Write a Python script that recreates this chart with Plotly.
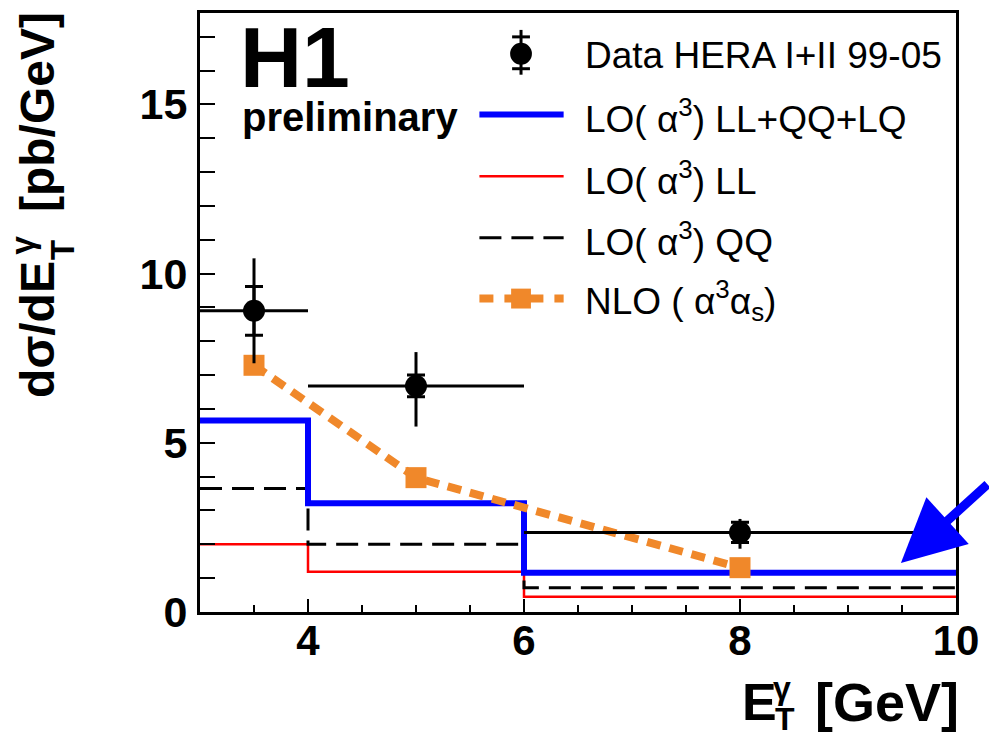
import plotly.graph_objects as go

# ---------------- data ----------------
data_x = [3.5, 5.0, 8.0]
data_xlo = [3.0, 4.0, 6.0]
data_xhi = [4.0, 6.0, 10.0]
data_y = [8.9, 6.68, 2.35]
data_tot_up = [1.55, 1.0, 0.40]
data_tot_dn = [1.55, 1.2, 0.48]
data_stat = [0.72, 0.32, 0.30]

bin_edges = [3.0, 4.0, 6.0, 10.0]
lo_all = [5.66, 3.21, 1.16]   # LO(a^3) LL+QQ+LQ
lo_ll = [2.00, 1.19, 0.45]    # LO(a^3) LL
lo_qq = [3.65, 2.00, 0.72]    # LO(a^3) QQ

nlo_x = [3.5, 5.0, 8.0]
nlo_y = [7.29, 3.97, 1.31]

legend_labels = [
    "Data HERA I+II 99-05",
    "LO( α<sup>3</sup>) LL+QQ+LQ",
    "LO( α<sup>3</sup>) LL",
    "LO( α<sup>3</sup>) QQ",
    "NLO ( α<sup>3</sup>α<sub>s</sub>)",
]

x_ticks = [4, 6, 8, 10]
y_ticks = [0, 5, 10, 15]

# ---------------- layout geometry ----------------
W, H = 989, 741
ML, MR, MT, MB = 200, 26, 10, 129
PW, PH = W - ML - MR, H - MT - MB

def px(x):
    return (x - ML) / PW

def py(y):
    return (H - MB - y) / PH

BLUE = "#0000ff"
RED = "#ff0000"
ORANGE = "#f0882a"
FONT = "Liberation Sans"

def step(vals):
    return vals + [vals[-1]]

fig = go.Figure()

fig.add_trace(go.Scatter(x=bin_edges, y=step(lo_ll), mode="lines", line_shape="hv",
                         line=dict(color=RED, width=2.5), showlegend=False))
fig.add_trace(go.Scatter(x=bin_edges, y=step(lo_qq), mode="lines", line_shape="hv",
                         line=dict(color="black", width=3, dash="22px,10px"), showlegend=False))
fig.add_trace(go.Scatter(x=bin_edges, y=step(lo_all), mode="lines", line_shape="hv",
                         line=dict(color=BLUE, width=6), showlegend=False))
fig.add_trace(go.Scatter(x=nlo_x, y=nlo_y, mode="lines+markers",
                         line=dict(color=ORANGE, width=8, dash="14px,9px"),
                         marker=dict(symbol="square", size=21, color=ORANGE),
                         showlegend=False))
# stat error caps
fig.add_trace(go.Scatter(x=data_x, y=data_y, mode="markers",
                         marker=dict(size=1, color="rgba(0,0,0,0)"),
                         error_y=dict(type="data", array=data_stat, symmetric=True,
                                      color="black", thickness=3, width=9),
                         showlegend=False))
# data with total errors
fig.add_trace(go.Scatter(
    x=data_x, y=data_y, mode="markers",
    marker=dict(symbol="circle", size=22, color="black"),
    error_x=dict(type="data",
                 array=[h - x for h, x in zip(data_xhi, data_x)],
                 arrayminus=[x - l for l, x in zip(data_xlo, data_x)],
                 symmetric=False, color="black", thickness=3, width=0),
    error_y=dict(type="data", array=data_tot_up, arrayminus=data_tot_dn,
                 symmetric=False, color="black", thickness=3, width=0),
    showlegend=False))

shapes = []
annotations = []

def text(t, x, y, size, bold=False, xanchor="left", yanchor="middle", angle=0):
    f = dict(family=FONT, size=size, color="black")
    if bold:
        f["weight"] = "bold"
    annotations.append(dict(text=t, xref="paper", yref="paper", x=px(x), y=py(y),
                            xanchor=xanchor, yanchor=yanchor, textangle=angle,
                            showarrow=False, font=f))

# ---------------- manual legend ----------------
lx0, lx1, lxc = 482, 567, 524
ly = [51, 112, 174, 236, 297]
tx = 587
# data glyph
shapes.append(dict(type="line", xref="paper", yref="paper", x0=px(lxc), x1=px(lxc),
                   y0=py(27), y1=py(72), line=dict(color="black", width=3)))
for yy in (34, 66):
    shapes.append(dict(type="line", xref="paper", yref="paper", x0=px(lxc - 9), x1=px(lxc + 9),
                       y0=py(yy), y1=py(yy), line=dict(color="black", width=3)))
shapes.append(dict(type="circle", xref="paper", yref="paper", x0=px(lxc - 11), x1=px(lxc + 11),
                   y0=py(ly[0] - 11), y1=py(ly[0] + 11), fillcolor="black",
                   line=dict(color="black", width=0)))
# line glyphs
shapes.append(dict(type="line", xref="paper", yref="paper", x0=px(lx0), x1=px(lx1),
                   y0=py(ly[1]), y1=py(ly[1]), line=dict(color=BLUE, width=6)))
shapes.append(dict(type="line", xref="paper", yref="paper", x0=px(lx0), x1=px(lx1),
                   y0=py(ly[2]), y1=py(ly[2]), line=dict(color=RED, width=2.5)))
shapes.append(dict(type="line", xref="paper", yref="paper", x0=px(lx0), x1=px(lx1),
                   y0=py(ly[3]), y1=py(ly[3]), line=dict(color="black", width=3, dash="22px,10px")))
shapes.append(dict(type="line", xref="paper", yref="paper", x0=px(lx0), x1=px(lx1),
                   y0=py(ly[4]), y1=py(ly[4]), line=dict(color=ORANGE, width=8, dash="14px,11px")))
shapes.append(dict(type="rect", xref="paper", yref="paper", x0=px(lxc - 10), x1=px(lxc + 10),
                   y0=py(ly[4] - 10), y1=py(ly[4] + 10), fillcolor=ORANGE,
                   line=dict(color=ORANGE, width=0)))
for lab, yy in zip(legend_labels, ly):
    text(lab, tx, yy + 2, 37)

# H1 preliminary
text("H1", 238, 54, 86, bold=True)
text("preliminary", 240, 115, 40, bold=True)

# y-axis title (ROOT style: stacked sub/superscript)
text("dσ/dE", 36, 328, 48, bold=True, xanchor="center", angle=-90)
text("T", 62, 248, 33, bold=True, xanchor="center", angle=-90)
text("γ", 21, 243, 33, bold=True, xanchor="center", angle=-90)
text("[pb/GeV]", 36, 110, 48, bold=True, xanchor="center", angle=-90)

# x-axis title
text("E", 745, 702, 52, bold=True)
text("T", 778, 720, 32, bold=True)
text("γ", 776, 688, 32, bold=True)
text("[GeV]", 968, 702, 54, bold=True, xanchor="right")

# blue arrow
annotations.append(dict(text="", x=9.49, y=1.45, xref="x", yref="y", ax=100, ay=-80,
                        showarrow=True, arrowhead=2, arrowsize=1.4, arrowwidth=9,
                        arrowcolor=BLUE, standoff=0))

fig.update_layout(
    width=W, height=H,
    margin=dict(l=ML, r=MR, t=MT, b=MB, pad=0),
    paper_bgcolor="white", plot_bgcolor="white",
    shapes=shapes, annotations=annotations,
    showlegend=False,
    xaxis=dict(range=[3, 10], tickvals=x_ticks, ticktext=[str(v) for v in x_ticks],
               ticks="inside", ticklen=13, tickwidth=2, tickcolor="black",
               minor=dict(dtick=0.5, tick0=0, ticks="inside", ticklen=7, tickwidth=2, tickcolor="black"),
               showline=True, linewidth=3, linecolor="black", mirror=True,
               showgrid=False, zeroline=False, ticklabelstandoff=-10,
               tickfont=dict(family=FONT, size=42, color="black", weight="bold")),
    yaxis=dict(range=[0, 17.7], tickvals=y_ticks, ticktext=[str(v) for v in y_ticks],
               ticks="inside", ticklen=15, tickwidth=2, tickcolor="black",
               minor=dict(dtick=1, tick0=0, ticks="inside", ticklen=15, tickwidth=2, tickcolor="black"),
               showline=True, linewidth=3, linecolor="black", mirror=True,
               showgrid=False, zeroline=False, ticklabelstandoff=1,
               tickfont=dict(family=FONT, size=43, color="black", weight="bold")),
)

fig.write_html("out.html")
